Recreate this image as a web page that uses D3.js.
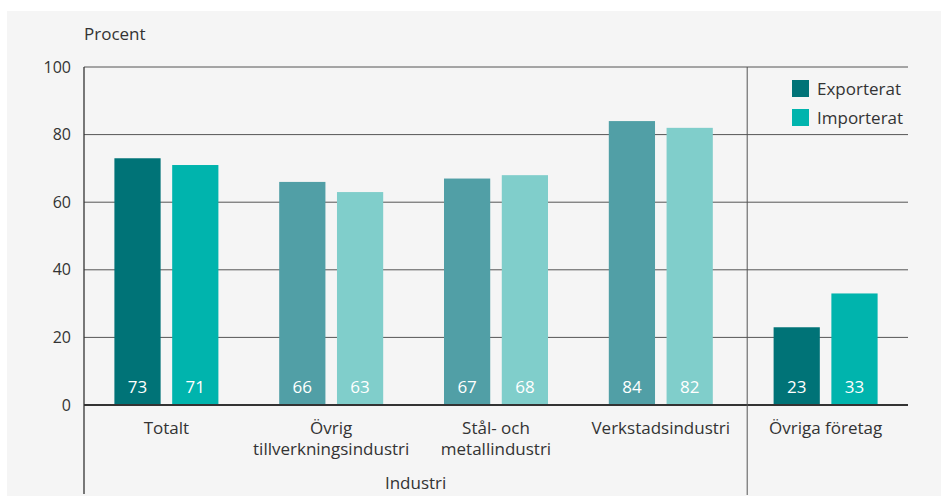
<!DOCTYPE html>
<html>
<head>
<meta charset="utf-8">
<script type="text/javascript" src="https://cdn.jsdelivr.net/npm/d3@7"></script>
<style>
  body { margin: 0; background: #fff; }
  text { font-family: "Open Sans", "Noto Sans", sans-serif; fill: #333; }
</style>
</head>
<body>
<script>

var width = 941,
    height = 501;

// data
var categories = ["Totalt", "Övrig tillverkningsindustri", "Stål- och metallindustri", "Verkstadsindustri", "Övriga företag"];
var labelLines = [["Totalt"], ["Övrig", "tillverkningsindustri"], ["Stål- och", "metallindustri"], ["Verkstadsindustri"], ["Övriga företag"]];
var exported = [73, 66, 67, 84, 23];
var imported = [71, 63, 68, 82, 33];
var seriesNames = ["Exporterat", "Importerat"];
var yTicks = [0, 20, 40, 60, 80, 100];

// full colours for Totalt / Övriga, lighter ones for the industry sub groups
var strongCols = ["#007377", "#00b4ad"];
var softCols   = ["#519fa6", "#80cecb"];

var margin = {left: 84, right: 33, top: 67, bottom: 96};

var svg = d3.select("body")
            .append("svg")
            .attr("width", width)
            .attr("height", height);

svg.append("rect")
   .attr("x", 7)
   .attr("y", 11)
   .attr("width", width - 7)
   .attr("height", 485)
   .style("fill", "#f5f5f5");

var x = d3.scaleBand()
          .domain(categories)
          .range([margin.left, width - margin.right])
          .paddingInner(0)
          .paddingOuter(0);

var y = d3.scaleLinear()
          .domain([0, 100])
          .range([height - margin.bottom, margin.top]);

var inner = d3.scaleBand()
              .domain(seriesNames)
              .range([0, 104])
              .paddingInner(0.2);

// gridlines
svg.append("g")
   .selectAll("line")
   .data(yTicks.filter(function (d) { return d > 0; }))
   .enter()
   .append("line")
   .attr("x1", margin.left)
   .attr("x2", width - margin.right)
   .attr("y1", function (d) { return y(d); })
   .attr("y2", function (d) { return y(d); })
   .style("stroke", "#555")
   .style("stroke-width", 1);

// y axis labels
var yAxis = d3.axisLeft(y).tickValues(yTicks).tickSize(0).tickPadding(13);
var yG = svg.append("g")
            .attr("transform", "translate(" + margin.left + ",0)")
            .call(yAxis);
yG.select(".domain").remove();
yG.selectAll("text")
  .style("font-size", "16px")
  .style("font-family", "'Open Sans', sans-serif")
  .style("fill", "#333");

svg.append("text")
   .attr("x", margin.left)
   .attr("y", 40)
   .style("font-size", "17px")
   .text("Procent");

// bars
var rows = categories.map(function (c, i) {
  return [{cat: c, s: 0, v: exported[i], i: i}, {cat: c, s: 1, v: imported[i], i: i}];
});
var flat = [].concat.apply([], rows);

function barColor(d) {
  return (d.i === 0 || d.i === 4) ? strongCols[d.s] : softCols[d.s];
}

function barX(d) {
  return x(d.cat) + (x.bandwidth() - 104) / 2 + inner(seriesNames[d.s]);
}

svg.append("g")
   .selectAll("rect")
   .data(flat)
   .enter()
   .append("rect")
   .attr("x", barX)
   .attr("y", function (d) { return y(d.v); })
   .attr("width", inner.bandwidth())
   .attr("height", function (d) { return y(0) - y(d.v); })
   .style("fill", barColor);

svg.append("g")
   .selectAll("text")
   .data(flat)
   .enter()
   .append("text")
   .attr("x", function (d) { return barX(d) + inner.bandwidth() / 2; })
   .attr("y", y(0) - 12)
   .attr("text-anchor", "middle")
   .style("font-size", "17px")
   .style("fill", "#fff")
   .text(function (d) { return d.v; });

// zero line
svg.append("line")
   .attr("x1", margin.left)
   .attr("x2", width - margin.right)
   .attr("y1", y(0))
   .attr("y2", y(0))
   .style("stroke", "#333")
   .style("stroke-width", 2);

// left axis line and separator
svg.append("line")
   .attr("x1", margin.left)
   .attr("x2", margin.left)
   .attr("y1", y(100))
   .attr("y2", 494)
   .style("stroke", "#333")
   .style("stroke-width", 1.3);

var sepX = x(categories[4]) + 4;
svg.append("line")
   .attr("x1", sepX)
   .attr("x2", sepX)
   .attr("y1", y(100))
   .attr("y2", 495)
   .style("stroke", "#555")
   .style("stroke-width", 1);

// category labels
var catG = svg.append("g")
              .selectAll("text")
              .data(categories)
              .enter()
              .append("text")
              .attr("text-anchor", "middle")
              .attr("y", 434)
              .style("font-size", "17px");

catG.selectAll("tspan")
    .data(function (d, i) { return labelLines[i]; })
    .enter()
    .append("tspan")
    .attr("x", function () { return x(d3.select(this.parentNode).datum()) + x.bandwidth() / 2; })
    .attr("dy", function (d, i) { return i ? 21 : 0; })
    .text(function (d) { return d; });

svg.append("text")
   .attr("x", (margin.left + sepX) / 2)
   .attr("y", 489)
   .attr("text-anchor", "middle")
   .style("font-size", "17px")
   .text("Industri");

// legend
var legend = svg.append("g")
                .attr("transform", "translate(792,80)");

var li = legend.selectAll("g")
               .data(seriesNames)
               .enter()
               .append("g")
               .attr("transform", function (d, i) { return "translate(0," + (i * 29) + ")"; });

li.append("rect")
  .attr("width", 17)
  .attr("height", 17)
  .style("fill", function (d, i) { return strongCols[i]; });

li.append("text")
  .attr("x", 25)
  .attr("y", 15)
  .style("font-size", "17px")
  .text(function (d) { return d; });

</script>
</body>
</html>
